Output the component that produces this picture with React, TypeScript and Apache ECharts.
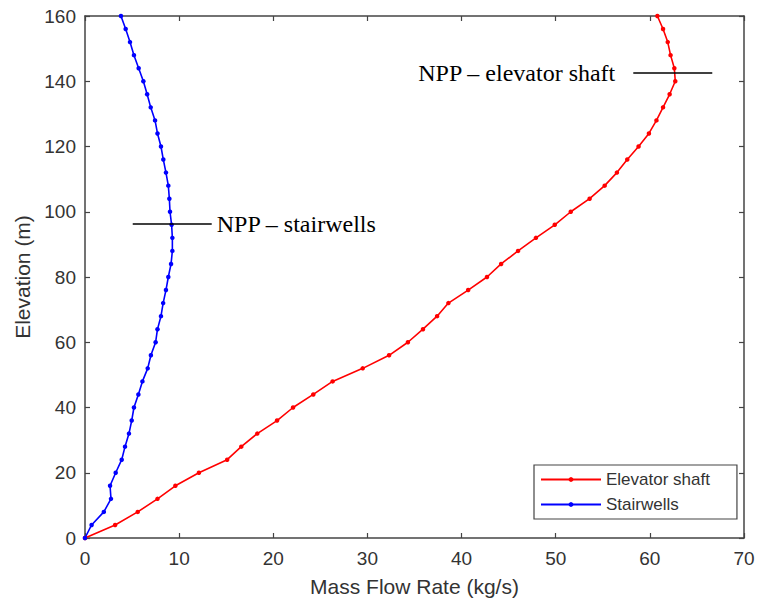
import React, { useEffect, useRef } from "react";
import * as echarts from "echarts";

const elevations = [0, 4, 8, 12, 16, 20, 24, 28, 32, 36, 40, 44, 48, 52, 56, 60, 64, 68, 72, 76, 80, 84, 88, 92, 96, 100, 104, 108, 112, 116, 120, 124, 128, 132, 136, 140, 144, 148, 152, 156, 160];

const elevatorShaft = [0, 3.2, 5.6, 7.7, 9.6, 12.1, 15.1, 16.6, 18.3, 20.4, 22.1, 24.25, 26.3, 29.5, 32.3, 34.3, 35.9, 37.4, 38.6, 40.7, 42.7, 44.2, 46.0, 47.9, 49.9, 51.6, 53.6, 55.2, 56.5, 57.6, 58.8, 59.9, 60.7, 61.4, 62.1, 62.7, 62.6, 62.2, 61.9, 61.4, 60.8];

const stairwells = [0, 0.7, 2.0, 2.76, 2.66, 3.26, 3.9, 4.25, 4.67, 4.96, 5.2, 5.67, 6.1, 6.66, 7.0, 7.5, 7.7, 8.07, 8.3, 8.6, 8.85, 9.14, 9.28, 9.28, 9.2, 9.03, 8.96, 8.85, 8.6, 8.32, 8.07, 7.7, 7.44, 6.98, 6.6, 6.2, 5.7, 5.2, 4.78, 4.32, 3.82];

const seriesNames = ["Elevator shaft", "Stairwells"];
const xTitle = "Mass Flow Rate (kg/s)";
const yTitle = "Elevation (m)";

const stairAnnot = { text: "NPP – stairwells", x0: 5.07, x1: 13.46, y: 96.25 };
const elevAnnot = { text: "NPP – elevator shaft", x0: 58.24, x1: 66.63, y: 142.6 };

const AXIS_COLOR = "#444444";
const TEXT_COLOR = "#333333";
const SANS = "'Liberation Sans', Arial, sans-serif";
const SERIF = "'Liberation Serif', 'Times New Roman', serif";

export default function App() {
  const ref = useRef<HTMLDivElement>(null);

  useEffect(() => {
    document.body.style.margin = "0";
    if (!ref.current) return;
    const chart = echarts.init(ref.current, undefined, { renderer: "svg" });

    const axisCommon = {
      axisLine: { show: true, onZero: false, lineStyle: { color: AXIS_COLOR, width: 1.5 } },
      axisTick: { show: true, inside: true, length: 5, lineStyle: { color: AXIS_COLOR, width: 1.2 } },
      splitLine: { show: false },
    };

    const annotLine = (a: typeof stairAnnot, pos: string, dist: number) => ({
      silent: true,
      symbol: ["none", "none"],
      lineStyle: { color: "#000", width: 1.5, type: "solid" },
      label: {
        show: true,
        position: pos,
        distance: dist,
        formatter: a.text,
        color: "#000",
        fontFamily: SERIF,
        fontSize: 24,
      },
      data: [[{ coord: [a.x0, a.y] }, { coord: [a.x1, a.y] }]],
    });

    chart.setOption({
      animation: false,
      backgroundColor: "#fff",
      grid: { left: 85, right: 14, top: 16, bottom: 67, containLabel: false },
      xAxis: [
        {
          type: "value",
          min: 0,
          max: 70,
          interval: 10,
          position: "bottom",
          name: xTitle,
          nameLocation: "middle",
          nameGap: 38,
          nameTextStyle: { color: TEXT_COLOR, fontSize: 21, fontFamily: SANS },
          axisLabel: { color: TEXT_COLOR, fontSize: 19, fontFamily: SANS, margin: 11 },
          ...axisCommon,
        },
        {
          type: "value",
          min: 0,
          max: 70,
          interval: 10,
          position: "top",
          axisLabel: { show: false },
          ...axisCommon,
        },
      ],
      yAxis: [
        {
          type: "value",
          min: 0,
          max: 160,
          interval: 20,
          position: "left",
          name: yTitle,
          nameLocation: "middle",
          nameGap: 52,
          nameTextStyle: { color: TEXT_COLOR, fontSize: 21, fontFamily: SANS },
          axisLabel: { color: TEXT_COLOR, fontSize: 19, fontFamily: SANS, margin: 9 },
          ...axisCommon,
        },
        {
          type: "value",
          min: 0,
          max: 160,
          interval: 20,
          position: "right",
          axisLabel: { show: false },
          ...axisCommon,
        },
      ],
      legend: {
        orient: "vertical",
        left: 534,
        top: 465,
        data: seriesNames,
        itemWidth: 60,
        itemHeight: 6,
        itemGap: 8,
        padding: [6, 27, 6, 6],
        borderColor: AXIS_COLOR,
        borderWidth: 1.2,
        backgroundColor: "#fff",
        textStyle: { color: TEXT_COLOR, fontSize: 17, fontFamily: SANS },
      },
      series: [
        {
          name: seriesNames[0],
          type: "line",
          xAxisIndex: 0,
          yAxisIndex: 0,
          data: elevatorShaft.map((v, i) => [v, elevations[i]]),
          symbol: "circle",
          symbolSize: 4.5,
          showSymbol: true,
          lineStyle: { color: "#ff0000", width: 1.6 },
          itemStyle: { color: "#ff0000" },
          markLine: annotLine(elevAnnot, "start", 18),
        },
        {
          name: seriesNames[1],
          type: "line",
          xAxisIndex: 0,
          yAxisIndex: 0,
          data: stairwells.map((v, i) => [v, elevations[i]]),
          symbol: "circle",
          symbolSize: 4.5,
          showSymbol: true,
          lineStyle: { color: "#0000ff", width: 1.6 },
          itemStyle: { color: "#0000ff" },
          markLine: annotLine(stairAnnot, "end", 5),
        },
      ],
    });

    return () => chart.dispose();
  }, []);

  return <div ref={ref} style={{ width: 758, height: 605 }} />;
}
